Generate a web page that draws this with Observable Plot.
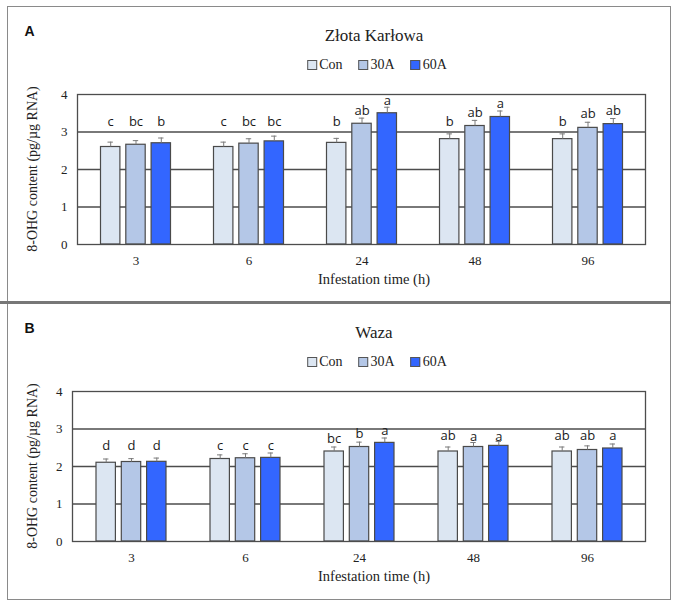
<!DOCTYPE html>
<html>
<head>
<meta charset="utf-8">
<script src="https://cdn.jsdelivr.net/npm/d3@7"></script>
<script src="https://cdn.jsdelivr.net/npm/@observablehq/plot@0.6"></script>
<style>
  body { margin: 0; background: #fff; }
  #root { position: relative; width: 678px; height: 606px; overflow: hidden; font-family: "Liberation Serif", serif; color: #222; }
  .abs { position: absolute; white-space: nowrap; }
  .center { transform: translate(-50%, -50%); }
  .panel-svg { position: absolute; left: 0; }
  .panel-svg text { font-family: "Liberation Serif", serif; }
  .panel-svg .letters text { font-family: "Open Sans", sans-serif; }
  .legend { display: flex; align-items: center; font-size: 14px; }
  .legend .item { display: flex; align-items: center; margin: 0 8px; }
  .legend .sw { width: 8px; height: 8px; border: 1px solid #555; margin-right: 2px; }
</style>
</head>
<body>
<div id="root"></div>
<script>
// ---------- data ----------
const times = ["3", "6", "24", "48", "96"];
const treatments = ["Con", "30A", "60A"];
const colors = ["#dce6f2", "#b4c7e7", "#3366ff"];
const yTicks = [0, 1, 2, 3, 4];

// Panel A: Złota Karłowa
const titleA = "Złota Karłowa";
const aCon = [2.60, 2.60, 2.71, 2.81, 2.81];
const a30A = [2.66, 2.69, 3.22, 3.16, 3.11];
const a60A = [2.70, 2.75, 3.50, 3.40, 3.21];
const aConErr = [0.13, 0.13, 0.12, 0.14, 0.14];
const a30AErr = [0.11, 0.13, 0.15, 0.15, 0.15];
const a60AErr = [0.14, 0.14, 0.16, 0.16, 0.15];
const aConLetters = ["c", "c", "b", "b", "b"];
const a30ALetters = ["bc", "bc", "ab", "ab", "ab"];
const a60ALetters = ["b", "bc", "a", "a", "ab"];
const aConLabelY = [3.28, 3.28, 3.26, 3.26, 3.26];
const a30ALabelY = [3.28, 3.28, 3.57, 3.51, 3.49];
const a60ALabelY = [3.28, 3.28, 3.82, 3.76, 3.57];

// Panel B: Waza
const titleB = "Waza";
const bCon = [2.10, 2.20, 2.40, 2.40, 2.40];
const b30A = [2.12, 2.22, 2.52, 2.52, 2.44];
const b60A = [2.125, 2.23, 2.63, 2.55, 2.48];
const bConErr = [0.10, 0.11, 0.12, 0.12, 0.12];
const b30AErr = [0.09, 0.12, 0.13, 0.12, 0.11];
const b60AErr = [0.10, 0.13, 0.13, 0.12, 0.12];
const bConLetters = ["d", "c", "bc", "ab", "ab"];
const b30ALetters = ["d", "c", "b", "a", "ab"];
const b60ALetters = ["d", "c", "a", "a", "a"];
const bConLabelY = [2.56, 2.55, 2.74, 2.82, 2.82];
const b30ALabelY = [2.56, 2.55, 2.86, 2.80, 2.82];
const b60ALabelY = [2.56, 2.55, 2.95, 2.78, 2.82];

const yLabel = "8-OHG content (pg/µg RNA)";
const xLabel = "Infestation time (h)";

// ---------- drawing ----------
const root = document.getElementById("root");
const W = 678;

function addDiv(html, cls, style) {
  const d = document.createElement("div");
  d.className = cls;
  d.innerHTML = html;
  Object.assign(d.style, style);
  root.appendChild(d);
  return d;
}

function drawPanel(p) {
  const series = [
    {values: p.con, errs: p.conErr, letters: p.conLetters, ly: p.conLabelY},
    {values: p.t30, errs: p.t30Err, letters: p.t30Letters, ly: p.t30LabelY},
    {values: p.t60, errs: p.t60Err, letters: p.t60Letters, ly: p.t60LabelY}
  ];
  const ml = p.marginLeft, mr = 33, mt = 94, mb = 56, H = 300;
  const band = (W - ml - mr) / times.length;
  const barW = 20, step = 25.3, capW = 6;
  const barInset = (band - barW) / 2;
  const capInset = (band - capW) / 2;

  const marks = [Plot.ruleY([1, 2, 3], {stroke: "#4d4d4d", strokeWidth: 1.3})];
  series.forEach((s, j) => {
    const rows = times.map((t, i) => ({
      time: t, treatment: treatments[j], value: s.values[i], top: s.values[i] + s.errs[i],
      letter: s.letters[i], ly: s.ly[i]
    }));
    const dx = (j - 1) * step;
    marks.push(
      Plot.barY(rows, {x: "time", y: "value", fill: colors[j], stroke: "#4a4a4a", strokeWidth: 1.2,
        insetLeft: barInset, insetRight: barInset, dx}),
      Plot.ruleX(rows, {x: "time", y1: "value", y2: "top", stroke: "#7a7a7a", strokeWidth: 1, dx}),
      Plot.tickY(rows, {x: "time", y: "top", stroke: "#7a7a7a", strokeWidth: 1,
        insetLeft: capInset, insetRight: capInset, dx}),
      Plot.text(rows, {x: "time", y: "ly", text: "letter", dx, className: "letters",
        fontSize: 13, fill: "#1a1a1a"})
    );
  });
  marks.push(Plot.frame({stroke: "#4d4d4d", strokeWidth: 1.3}));

  const svg = Plot.plot({
    width: W, height: H,
    marginLeft: ml, marginRight: mr, marginTop: mt, marginBottom: mb,
    style: {background: "transparent", fontSize: "13px", color: "#222"},
    x: {type: "band", domain: times, padding: 0, tickSize: 0, tickPadding: 11, label: null},
    y: {domain: [0, 4], ticks: yTicks, tickFormat: d3.format("d"), tickSize: 0, tickPadding: 10, label: null},
    marks
  });
  svg.classList.add("panel-svg");
  svg.style.top = p.top + "px";
  root.appendChild(svg);

  const plotCx = 374;
  addDiv(p.title, "abs center", {left: plotCx + "px", top: (p.top + 35.5) + "px", fontSize: "17px"});
  const leg = addDiv("", "abs center legend", {left: "377px", top: (p.top + 65) + "px"});
  treatments.forEach((t, j) => {
    const it = document.createElement("div");
    it.className = "item";
    it.innerHTML = `<span class="sw" style="background:${colors[j]}"></span><span>${t}</span>`;
    leg.appendChild(it);
  });
  addDiv(xLabel, "abs center", {left: plotCx + "px", top: (p.top + 279) + "px", fontSize: "14.5px"});
  addDiv(yLabel, "abs", {left: "33px", top: (p.top + 169) + "px", fontSize: "14px",
    transform: "translate(-50%, -50%) rotate(-90deg)"});
  addDiv(p.tag, "abs center", {left: "29.5px", top: (p.top + 31) + "px",
    fontFamily: "\"Liberation Sans\", sans-serif", fontWeight: "700", fontSize: "14px", color: "#111"});
}

drawPanel({
  top: 0, marginLeft: 77, title: titleA, tag: "A",
  con: aCon, conErr: aConErr, conLetters: aConLetters, conLabelY: aConLabelY,
  t30: a30A, t30Err: a30AErr, t30Letters: a30ALetters, t30LabelY: a30ALabelY,
  t60: a60A, t60Err: a60AErr, t60Letters: a60ALetters, t60LabelY: a60ALabelY
});
drawPanel({
  top: 297, marginLeft: 72, title: titleB, tag: "B",
  con: bCon, conErr: bConErr, conLetters: bConLetters, conLabelY: bConLabelY,
  t30: b30A, t30Err: b30AErr, t30Letters: b30ALetters, t30LabelY: b30ALabelY,
  t60: b60A, t60Err: b60AErr, t60Letters: b60ALetters, t60LabelY: b60ALabelY
});

// outer frame and divider
addDiv("", "abs", {left: "7px", top: "6px", width: "662px", height: "592px", border: "1px solid #8a8a8a"});
addDiv("", "abs", {left: "0px", top: "300.5px", width: "671px", height: "3px", background: "#777"});
</script>
</body>
</html>
